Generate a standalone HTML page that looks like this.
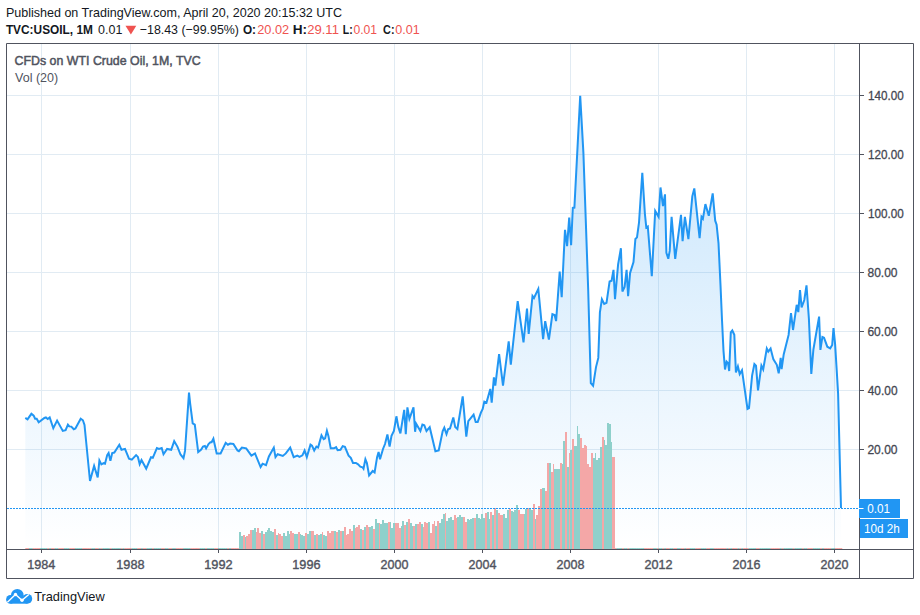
<!DOCTYPE html><html><head><meta charset="utf-8"><style>html,body{margin:0;padding:0;background:#fff;}svg{display:block;}text{font-family:"Liberation Sans",sans-serif;}</style></head><body>
<svg width="920" height="615" viewBox="0 0 920 615">
<defs><linearGradient id="ag" x1="0" y1="95" x2="0" y2="548" gradientUnits="userSpaceOnUse"><stop offset="0" stop-color="#2196f3" stop-opacity="0.26"/><stop offset="1" stop-color="#2196f3" stop-opacity="0.0"/></linearGradient></defs>
<path d="M41.5 44V549M130.5 44V549M218.5 44V549M306.5 44V549M394.5 44V549M482.5 44V549M570.5 44V549M658.5 44V549M746.5 44V549M834.5 44V549M7 95.5H859M7 154.5H859M7 213.5H859M7 272.5H859M7 331.5H859M7 390.5H859M7 449.5H859" stroke="#e1ebf3" stroke-width="1" fill="none"/>
<path d="M25.3 417.9 L27.5 419.3 L31.4 413.8 L33.7 415.6 L35.1 418.7 L36.7 418.7 L38.7 422.3 L44.4 418.0 L45.9 417.4 L47.7 419.0 L49.7 417.4 L53.3 428.2 L57.1 420.6 L62.8 430.9 L65.6 430.1 L67.9 424.6 L69.3 426.4 L71.3 426.6 L73.8 429.3 L75.4 428.5 L80.7 418.7 L82.9 420.3 L84.5 425.0 L90.0 481.0 L94.1 465.9 L97.7 477.5 L99.4 460.5 L101.4 464.4 L103.6 463.2 L105.0 463.7 L107.2 455.1 L108.6 453.0 L110.4 460.9 L112.2 453.0 L114.3 452.5 L119.3 444.8 L121.5 449.8 L125.0 448.9 L129.0 458.7 L131.8 459.6 L136.1 455.1 L137.9 456.9 L139.7 464.1 L141.5 460.1 L146.2 468.6 L151.0 457.3 L152.8 457.8 L156.9 448.0 L159.0 448.9 L161.7 448.0 L163.5 454.2 L167.1 448.9 L171.2 449.8 L174.2 441.2 L177.4 446.6 L180.5 454.5 L183.5 458.2 L185.0 450.9 L189.0 392.6 L190.2 403.9 L192.7 423.4 L194.8 424.6 L198.2 452.1 L201.2 449.6 L203.0 446.6 L204.9 446.0 L206.1 448.4 L208.5 444.1 L210.4 442.3 L211.6 442.3 L213.4 438.7 L216.7 453.4 L220.6 453.4 L225.7 442.8 L227.9 444.7 L230.1 443.6 L233.4 443.9 L237.5 450.5 L238.9 451.2 L241.9 447.6 L246.2 448.3 L251.4 455.6 L255.0 453.4 L260.6 467.1 L262.6 463.7 L266.0 465.2 L268.9 456.4 L273.8 447.6 L275.5 457.1 L277.7 454.2 L282.8 455.9 L285.8 453.4 L290.2 447.6 L293.7 457.1 L297.3 455.6 L299.5 456.8 L302.4 455.3 L304.6 450.5 L306.8 457.1 L310.5 444.7 L312.0 445.7 L314.2 450.5 L316.4 446.6 L318.1 447.6 L321.5 435.4 L323.7 439.2 L325.1 438.4 L326.9 430.7 L328.4 435.9 L330.7 448.3 L333.9 448.3 L336.1 447.1 L337.6 450.1 L340.5 449.8 L342.7 446.1 L344.9 446.9 L348.6 455.6 L350.8 457.8 L353.0 463.0 L355.9 463.0 L358.1 464.4 L360.3 466.6 L362.5 467.3 L363.5 468.8 L365.4 459.3 L366.9 463.0 L369.1 475.4 L372.7 471.0 L374.6 472.5 L377.1 457.1 L378.6 452.0 L380.0 459.3 L383.0 449.0 L385.0 444.0 L387.4 434.5 L389.6 446.6 L391.5 435.9 L393.9 431.0 L396.4 416.3 L398.3 426.9 L400.4 433.4 L404.2 409.8 L405.8 434.2 L407.4 407.4 L409.4 418.8 L413.5 407.4 L415.1 431.8 L416.2 423.7 L420.4 431.0 L422.4 424.5 L424.3 425.3 L426.5 431.0 L429.7 427.2 L435.4 451.3 L438.7 450.5 L442.7 431.0 L444.3 427.7 L446.5 434.2 L448.1 429.3 L450.0 428.5 L453.3 417.5 L455.2 426.9 L457.4 428.9 L462.7 396.3 L466.3 436.7 L468.3 421.2 L473.6 414.7 L475.7 422.0 L477.7 422.0 L480.9 412.6 L482.7 409.0 L484.3 401.6 L486.5 402.6 L490.3 388.9 L491.7 402.6 L493.9 377.3 L495.3 385.7 L499.1 354.0 L503.0 385.7 L508.7 341.3 L510.8 364.6 L517.7 301.1 L523.5 342.4 L527.0 308.5 L528.7 333.9 L532.5 295.9 L534.0 298.0 L538.3 288.9 L543.1 339.2 L545.2 321.2 L548.9 339.6 L552.4 314.1 L554.6 314.9 L556.1 321.1 L559.7 271.6 L561.7 297.1 L565.0 229.8 L567.1 246.1 L569.2 217.6 L571.1 245.3 L572.8 207.9 L574.4 207.6 L580.2 95.8 L583.4 152.9 L585.9 223.9 L588.2 290.0 L590.8 383.0 L593.1 385.7 L596.0 367.1 L598.3 357.9 L599.9 312.4 L601.9 299.2 L604.2 303.9 L606.5 302.8 L609.6 281.5 L611.6 280.7 L613.5 269.9 L615.0 299.2 L618.1 264.5 L620.9 248.2 L622.4 291.5 L624.6 286.9 L626.6 269.9 L628.1 296.1 L630.1 273.0 L633.5 262.1 L635.4 239.0 L637.0 237.4 L639.0 222.7 L642.3 172.8 L644.9 213.8 L646.3 227.5 L647.8 226.5 L651.8 276.1 L655.2 210.9 L658.6 216.8 L660.5 187.5 L663.0 206.0 L665.0 194.3 L666.4 252.9 L668.3 258.8 L669.7 250.9 L671.6 216.8 L675.2 258.8 L681.0 214.8 L682.6 241.2 L684.9 216.8 L688.4 239.2 L692.3 196.3 L694.3 188.4 L699.6 238.2 L701.5 216.8 L702.9 218.7 L705.4 204.1 L708.8 215.8 L712.7 193.3 L715.2 220.7 L716.6 224.6 L718.5 243.1 L720.5 285.1 L722.0 320.0 L723.5 350.9 L725.0 369.5 L726.6 361.7 L728.1 363.3 L729.2 371.0 L730.8 332.4 L732.3 330.5 L734.3 334.7 L735.9 372.5 L737.9 366.4 L739.7 374.1 L742.0 370.2 L747.5 408.9 L749.0 408.1 L752.1 375.6 L754.4 364.0 L756.0 365.6 L758.0 390.3 L761.4 365.6 L763.2 369.5 L766.8 348.6 L768.3 351.7 L770.6 348.6 L773.4 359.4 L776.8 364.8 L778.7 373.3 L780.7 357.9 L781.6 369.1 L783.7 354.4 L788.6 334.9 L791.0 313.0 L793.0 330.0 L796.7 304.8 L798.3 312.1 L800.0 290.2 L801.6 307.3 L804.3 300.0 L806.5 285.3 L808.9 318.7 L811.3 373.9 L813.4 349.5 L819.1 316.6 L820.4 349.9 L822.4 336.9 L824.0 337.7 L827.3 346.7 L830.2 348.3 L832.2 345.0 L833.5 328.0 L835.1 344.2 L836.7 370.0 L838.1 393.6 L841.0 508.0 L841.0 549 L25.3 549 Z" fill="url(#ag)" stroke="none"/>
<g><rect x="25.30" y="548" width="1.9" height="1" fill="#ef5350" fill-opacity="0.5"/><rect x="27.14" y="548" width="1.9" height="1" fill="#ef5350" fill-opacity="0.5"/><rect x="28.97" y="548" width="1.9" height="1" fill="#26a69a" fill-opacity="0.5"/><rect x="30.81" y="548" width="1.9" height="1" fill="#26a69a" fill-opacity="0.5"/><rect x="32.64" y="548" width="1.9" height="1" fill="#ef5350" fill-opacity="0.5"/><rect x="34.48" y="548" width="1.9" height="1" fill="#ef5350" fill-opacity="0.5"/><rect x="36.31" y="548" width="1.9" height="1" fill="#ef5350" fill-opacity="0.5"/><rect x="38.15" y="548" width="1.9" height="1" fill="#ef5350" fill-opacity="0.5"/><rect x="39.98" y="548" width="1.9" height="1" fill="#26a69a" fill-opacity="0.5"/><rect x="41.82" y="548" width="1.9" height="1" fill="#26a69a" fill-opacity="0.5"/><rect x="43.66" y="548" width="1.9" height="1" fill="#26a69a" fill-opacity="0.5"/><rect x="45.49" y="548" width="1.9" height="1" fill="#26a69a" fill-opacity="0.5"/><rect x="47.33" y="548" width="1.9" height="1" fill="#ef5350" fill-opacity="0.5"/><rect x="49.16" y="548" width="1.9" height="1" fill="#26a69a" fill-opacity="0.5"/><rect x="51.00" y="548" width="1.9" height="1" fill="#ef5350" fill-opacity="0.5"/><rect x="52.83" y="548" width="1.9" height="1" fill="#ef5350" fill-opacity="0.5"/><rect x="54.67" y="548" width="1.9" height="1" fill="#26a69a" fill-opacity="0.5"/><rect x="56.51" y="548" width="1.9" height="1" fill="#26a69a" fill-opacity="0.5"/><rect x="58.34" y="548" width="1.9" height="1" fill="#ef5350" fill-opacity="0.5"/><rect x="60.18" y="548" width="1.9" height="1" fill="#ef5350" fill-opacity="0.5"/><rect x="62.01" y="548" width="1.9" height="1" fill="#ef5350" fill-opacity="0.5"/><rect x="63.85" y="548" width="1.9" height="1" fill="#26a69a" fill-opacity="0.5"/><rect x="65.68" y="548" width="1.9" height="1" fill="#26a69a" fill-opacity="0.5"/><rect x="67.52" y="548" width="1.9" height="1" fill="#26a69a" fill-opacity="0.5"/><rect x="69.35" y="548" width="1.9" height="1" fill="#ef5350" fill-opacity="0.5"/><rect x="71.19" y="548" width="1.9" height="1" fill="#ef5350" fill-opacity="0.5"/><rect x="73.03" y="548" width="1.9" height="1" fill="#ef5350" fill-opacity="0.5"/><rect x="74.86" y="548" width="1.9" height="1" fill="#26a69a" fill-opacity="0.5"/><rect x="76.70" y="548" width="1.9" height="1" fill="#26a69a" fill-opacity="0.5"/><rect x="78.53" y="548" width="1.9" height="1" fill="#26a69a" fill-opacity="0.5"/><rect x="80.37" y="548" width="1.9" height="1" fill="#26a69a" fill-opacity="0.5"/><rect x="82.20" y="548" width="1.9" height="1" fill="#ef5350" fill-opacity="0.5"/><rect x="84.04" y="548" width="1.9" height="1" fill="#ef5350" fill-opacity="0.5"/><rect x="85.87" y="548" width="1.9" height="1" fill="#ef5350" fill-opacity="0.5"/><rect x="87.71" y="548" width="1.9" height="1" fill="#ef5350" fill-opacity="0.5"/><rect x="89.55" y="548" width="1.9" height="1" fill="#ef5350" fill-opacity="0.5"/><rect x="91.38" y="548" width="1.9" height="1" fill="#26a69a" fill-opacity="0.5"/><rect x="93.22" y="548" width="1.9" height="1" fill="#26a69a" fill-opacity="0.5"/><rect x="95.05" y="548" width="1.9" height="1" fill="#ef5350" fill-opacity="0.5"/><rect x="96.89" y="548" width="1.9" height="1" fill="#ef5350" fill-opacity="0.5"/><rect x="98.72" y="548" width="1.9" height="1" fill="#26a69a" fill-opacity="0.5"/><rect x="100.56" y="548" width="1.9" height="1" fill="#ef5350" fill-opacity="0.5"/><rect x="102.40" y="548" width="1.9" height="1" fill="#26a69a" fill-opacity="0.5"/><rect x="104.23" y="548" width="1.9" height="1" fill="#26a69a" fill-opacity="0.5"/><rect x="106.07" y="548" width="1.9" height="1" fill="#26a69a" fill-opacity="0.5"/><rect x="107.90" y="548" width="1.9" height="1" fill="#26a69a" fill-opacity="0.5"/><rect x="109.74" y="548" width="1.9" height="1" fill="#ef5350" fill-opacity="0.5"/><rect x="111.57" y="548" width="1.9" height="1" fill="#26a69a" fill-opacity="0.5"/><rect x="113.41" y="548" width="1.9" height="1" fill="#26a69a" fill-opacity="0.5"/><rect x="115.24" y="548" width="1.9" height="1" fill="#26a69a" fill-opacity="0.5"/><rect x="117.08" y="548" width="1.9" height="1" fill="#26a69a" fill-opacity="0.5"/><rect x="118.92" y="548" width="1.9" height="1" fill="#26a69a" fill-opacity="0.5"/><rect x="120.75" y="548" width="1.9" height="1" fill="#ef5350" fill-opacity="0.5"/><rect x="122.59" y="548" width="1.9" height="1" fill="#26a69a" fill-opacity="0.5"/><rect x="124.42" y="548" width="1.9" height="1" fill="#ef5350" fill-opacity="0.5"/><rect x="126.26" y="548" width="1.9" height="1" fill="#ef5350" fill-opacity="0.5"/><rect x="128.09" y="548" width="1.9" height="1" fill="#ef5350" fill-opacity="0.5"/><rect x="129.93" y="548" width="1.9" height="1" fill="#ef5350" fill-opacity="0.5"/><rect x="131.76" y="548" width="1.9" height="1" fill="#26a69a" fill-opacity="0.5"/><rect x="133.60" y="548" width="1.9" height="1" fill="#26a69a" fill-opacity="0.5"/><rect x="135.44" y="548" width="1.9" height="1" fill="#26a69a" fill-opacity="0.5"/><rect x="137.27" y="548" width="1.9" height="1" fill="#ef5350" fill-opacity="0.5"/><rect x="139.11" y="548" width="1.9" height="1" fill="#ef5350" fill-opacity="0.5"/><rect x="140.94" y="548" width="1.9" height="1" fill="#26a69a" fill-opacity="0.5"/><rect x="142.78" y="548" width="1.9" height="1" fill="#ef5350" fill-opacity="0.5"/><rect x="144.61" y="548" width="1.9" height="1" fill="#ef5350" fill-opacity="0.5"/><rect x="146.45" y="548" width="1.9" height="1" fill="#26a69a" fill-opacity="0.5"/><rect x="148.29" y="548" width="1.9" height="1" fill="#26a69a" fill-opacity="0.5"/><rect x="150.12" y="548" width="1.9" height="1" fill="#26a69a" fill-opacity="0.5"/><rect x="151.96" y="548" width="1.9" height="1" fill="#ef5350" fill-opacity="0.5"/><rect x="153.79" y="548" width="1.9" height="1" fill="#26a69a" fill-opacity="0.5"/><rect x="155.63" y="548" width="1.9" height="1" fill="#26a69a" fill-opacity="0.5"/><rect x="157.46" y="548" width="1.9" height="1" fill="#26a69a" fill-opacity="0.5"/><rect x="159.30" y="548" width="1.9" height="1" fill="#26a69a" fill-opacity="0.5"/><rect x="161.13" y="548" width="1.9" height="1" fill="#ef5350" fill-opacity="0.5"/><rect x="162.97" y="548" width="1.9" height="1" fill="#ef5350" fill-opacity="0.5"/><rect x="164.81" y="548" width="1.9" height="1" fill="#26a69a" fill-opacity="0.5"/><rect x="166.64" y="548" width="1.9" height="1" fill="#26a69a" fill-opacity="0.5"/><rect x="168.48" y="548" width="1.9" height="1" fill="#ef5350" fill-opacity="0.5"/><rect x="170.31" y="548" width="1.9" height="1" fill="#ef5350" fill-opacity="0.5"/><rect x="172.15" y="548" width="1.9" height="1" fill="#26a69a" fill-opacity="0.5"/><rect x="173.98" y="548" width="1.9" height="1" fill="#26a69a" fill-opacity="0.5"/><rect x="175.82" y="548" width="1.9" height="1" fill="#ef5350" fill-opacity="0.5"/><rect x="177.65" y="548" width="1.9" height="1" fill="#ef5350" fill-opacity="0.5"/><rect x="179.49" y="548" width="1.9" height="1" fill="#ef5350" fill-opacity="0.5"/><rect x="181.33" y="548" width="1.9" height="1" fill="#ef5350" fill-opacity="0.5"/><rect x="183.16" y="548" width="1.9" height="1" fill="#26a69a" fill-opacity="0.5"/><rect x="185.00" y="548" width="1.9" height="1" fill="#26a69a" fill-opacity="0.5"/><rect x="186.83" y="548" width="1.9" height="1" fill="#26a69a" fill-opacity="0.5"/><rect x="188.67" y="548" width="1.9" height="1" fill="#26a69a" fill-opacity="0.5"/><rect x="190.50" y="548" width="1.9" height="1" fill="#ef5350" fill-opacity="0.5"/><rect x="192.34" y="548" width="1.9" height="1" fill="#ef5350" fill-opacity="0.5"/><rect x="194.18" y="548" width="1.9" height="1" fill="#ef5350" fill-opacity="0.5"/><rect x="196.01" y="548" width="1.9" height="1" fill="#ef5350" fill-opacity="0.5"/><rect x="197.85" y="548" width="1.9" height="1" fill="#ef5350" fill-opacity="0.5"/><rect x="199.68" y="548" width="1.9" height="1" fill="#26a69a" fill-opacity="0.5"/><rect x="201.52" y="548" width="1.9" height="1" fill="#26a69a" fill-opacity="0.5"/><rect x="203.35" y="548" width="1.9" height="1" fill="#26a69a" fill-opacity="0.5"/><rect x="205.19" y="548" width="1.9" height="1" fill="#ef5350" fill-opacity="0.5"/><rect x="207.02" y="548" width="1.9" height="1" fill="#26a69a" fill-opacity="0.5"/><rect x="208.86" y="548" width="1.9" height="1" fill="#26a69a" fill-opacity="0.5"/><rect x="210.70" y="548" width="1.9" height="1" fill="#26a69a" fill-opacity="0.5"/><rect x="212.53" y="548" width="1.9" height="1" fill="#26a69a" fill-opacity="0.5"/><rect x="214.37" y="548" width="1.9" height="1" fill="#ef5350" fill-opacity="0.5"/><rect x="216.20" y="548" width="1.9" height="1" fill="#ef5350" fill-opacity="0.5"/><rect x="218.04" y="548" width="1.9" height="1" fill="#26a69a" fill-opacity="0.5"/><rect x="219.87" y="548" width="1.9" height="1" fill="#26a69a" fill-opacity="0.5"/><rect x="221.71" y="548" width="1.9" height="1" fill="#26a69a" fill-opacity="0.5"/><rect x="223.54" y="548" width="1.9" height="1" fill="#26a69a" fill-opacity="0.5"/><rect x="225.38" y="548" width="1.9" height="1" fill="#26a69a" fill-opacity="0.5"/><rect x="227.22" y="548" width="1.9" height="1" fill="#ef5350" fill-opacity="0.5"/><rect x="229.05" y="548" width="1.9" height="1" fill="#26a69a" fill-opacity="0.5"/><rect x="230.89" y="548" width="1.9" height="1" fill="#ef5350" fill-opacity="0.5"/><rect x="232.72" y="548" width="1.9" height="1" fill="#ef5350" fill-opacity="0.5"/><rect x="234.56" y="548" width="1.9" height="1" fill="#ef5350" fill-opacity="0.5"/><rect x="236.39" y="548" width="1.9" height="1" fill="#ef5350" fill-opacity="0.5"/><rect x="238.23" y="548" width="1.9" height="1" fill="#ef5350" fill-opacity="0.5"/><rect x="614.60" y="548" width="1.9" height="1" fill="#ef5350" fill-opacity="0.5"/><rect x="616.44" y="548" width="1.9" height="1" fill="#26a69a" fill-opacity="0.5"/><rect x="618.27" y="548" width="1.9" height="1" fill="#26a69a" fill-opacity="0.5"/><rect x="620.11" y="548" width="1.9" height="1" fill="#26a69a" fill-opacity="0.5"/><rect x="621.94" y="548" width="1.9" height="1" fill="#ef5350" fill-opacity="0.5"/><rect x="623.78" y="548" width="1.9" height="1" fill="#26a69a" fill-opacity="0.5"/><rect x="625.61" y="548" width="1.9" height="1" fill="#26a69a" fill-opacity="0.5"/><rect x="627.45" y="548" width="1.9" height="1" fill="#ef5350" fill-opacity="0.5"/><rect x="629.28" y="548" width="1.9" height="1" fill="#26a69a" fill-opacity="0.5"/><rect x="631.12" y="548" width="1.9" height="1" fill="#26a69a" fill-opacity="0.5"/><rect x="632.96" y="548" width="1.9" height="1" fill="#26a69a" fill-opacity="0.5"/><rect x="634.79" y="548" width="1.9" height="1" fill="#26a69a" fill-opacity="0.5"/><rect x="636.63" y="548" width="1.9" height="1" fill="#26a69a" fill-opacity="0.5"/><rect x="638.46" y="548" width="1.9" height="1" fill="#26a69a" fill-opacity="0.5"/><rect x="640.30" y="548" width="1.9" height="1" fill="#26a69a" fill-opacity="0.5"/><rect x="642.13" y="548" width="1.9" height="1" fill="#26a69a" fill-opacity="0.5"/><rect x="643.97" y="548" width="1.9" height="1" fill="#ef5350" fill-opacity="0.5"/><rect x="645.81" y="548" width="1.9" height="1" fill="#ef5350" fill-opacity="0.5"/><rect x="647.64" y="548" width="1.9" height="1" fill="#ef5350" fill-opacity="0.5"/><rect x="649.48" y="548" width="1.9" height="1" fill="#ef5350" fill-opacity="0.5"/><rect x="651.31" y="548" width="1.9" height="1" fill="#ef5350" fill-opacity="0.5"/><rect x="653.15" y="548" width="1.9" height="1" fill="#26a69a" fill-opacity="0.5"/><rect x="654.98" y="548" width="1.9" height="1" fill="#26a69a" fill-opacity="0.5"/><rect x="656.82" y="548" width="1.9" height="1" fill="#ef5350" fill-opacity="0.5"/><rect x="658.65" y="548" width="1.9" height="1" fill="#26a69a" fill-opacity="0.5"/><rect x="660.49" y="548" width="1.9" height="1" fill="#26a69a" fill-opacity="0.5"/><rect x="662.33" y="548" width="1.9" height="1" fill="#ef5350" fill-opacity="0.5"/><rect x="664.16" y="548" width="1.9" height="1" fill="#26a69a" fill-opacity="0.5"/><rect x="666.00" y="548" width="1.9" height="1" fill="#ef5350" fill-opacity="0.5"/><rect x="667.83" y="548" width="1.9" height="1" fill="#ef5350" fill-opacity="0.5"/><rect x="669.67" y="548" width="1.9" height="1" fill="#26a69a" fill-opacity="0.5"/><rect x="671.50" y="548" width="1.9" height="1" fill="#26a69a" fill-opacity="0.5"/><rect x="673.34" y="548" width="1.9" height="1" fill="#ef5350" fill-opacity="0.5"/><rect x="675.17" y="548" width="1.9" height="1" fill="#ef5350" fill-opacity="0.5"/><rect x="677.01" y="548" width="1.9" height="1" fill="#26a69a" fill-opacity="0.5"/><rect x="678.85" y="548" width="1.9" height="1" fill="#26a69a" fill-opacity="0.5"/><rect x="680.68" y="548" width="1.9" height="1" fill="#ef5350" fill-opacity="0.5"/><rect x="682.52" y="548" width="1.9" height="1" fill="#ef5350" fill-opacity="0.5"/><rect x="684.35" y="548" width="1.9" height="1" fill="#26a69a" fill-opacity="0.5"/><rect x="686.19" y="548" width="1.9" height="1" fill="#ef5350" fill-opacity="0.5"/><rect x="688.02" y="548" width="1.9" height="1" fill="#ef5350" fill-opacity="0.5"/><rect x="689.86" y="548" width="1.9" height="1" fill="#26a69a" fill-opacity="0.5"/><rect x="691.70" y="548" width="1.9" height="1" fill="#26a69a" fill-opacity="0.5"/><rect x="693.53" y="548" width="1.9" height="1" fill="#26a69a" fill-opacity="0.5"/><rect x="695.37" y="548" width="1.9" height="1" fill="#ef5350" fill-opacity="0.5"/><rect x="697.20" y="548" width="1.9" height="1" fill="#ef5350" fill-opacity="0.5"/><rect x="699.04" y="548" width="1.9" height="1" fill="#ef5350" fill-opacity="0.5"/><rect x="700.87" y="548" width="1.9" height="1" fill="#26a69a" fill-opacity="0.5"/><rect x="702.71" y="548" width="1.9" height="1" fill="#26a69a" fill-opacity="0.5"/><rect x="704.54" y="548" width="1.9" height="1" fill="#26a69a" fill-opacity="0.5"/><rect x="706.38" y="548" width="1.9" height="1" fill="#ef5350" fill-opacity="0.5"/><rect x="708.22" y="548" width="1.9" height="1" fill="#ef5350" fill-opacity="0.5"/><rect x="710.05" y="548" width="1.9" height="1" fill="#26a69a" fill-opacity="0.5"/><rect x="711.89" y="548" width="1.9" height="1" fill="#26a69a" fill-opacity="0.5"/><rect x="713.72" y="548" width="1.9" height="1" fill="#ef5350" fill-opacity="0.5"/><rect x="715.56" y="548" width="1.9" height="1" fill="#ef5350" fill-opacity="0.5"/><rect x="717.39" y="548" width="1.9" height="1" fill="#ef5350" fill-opacity="0.5"/><rect x="719.23" y="548" width="1.9" height="1" fill="#ef5350" fill-opacity="0.5"/><rect x="721.06" y="548" width="1.9" height="1" fill="#ef5350" fill-opacity="0.5"/><rect x="722.90" y="548" width="1.9" height="1" fill="#ef5350" fill-opacity="0.5"/><rect x="724.74" y="548" width="1.9" height="1" fill="#ef5350" fill-opacity="0.5"/><rect x="726.57" y="548" width="1.9" height="1" fill="#26a69a" fill-opacity="0.5"/><rect x="728.41" y="548" width="1.9" height="1" fill="#ef5350" fill-opacity="0.5"/><rect x="730.24" y="548" width="1.9" height="1" fill="#26a69a" fill-opacity="0.5"/><rect x="732.08" y="548" width="1.9" height="1" fill="#ef5350" fill-opacity="0.5"/><rect x="733.91" y="548" width="1.9" height="1" fill="#ef5350" fill-opacity="0.5"/><rect x="735.75" y="548" width="1.9" height="1" fill="#ef5350" fill-opacity="0.5"/><rect x="737.59" y="548" width="1.9" height="1" fill="#26a69a" fill-opacity="0.5"/><rect x="739.42" y="548" width="1.9" height="1" fill="#ef5350" fill-opacity="0.5"/><rect x="741.26" y="548" width="1.9" height="1" fill="#26a69a" fill-opacity="0.5"/><rect x="743.09" y="548" width="1.9" height="1" fill="#ef5350" fill-opacity="0.5"/><rect x="744.93" y="548" width="1.9" height="1" fill="#ef5350" fill-opacity="0.5"/><rect x="746.76" y="548" width="1.9" height="1" fill="#ef5350" fill-opacity="0.5"/><rect x="748.60" y="548" width="1.9" height="1" fill="#26a69a" fill-opacity="0.5"/><rect x="750.43" y="548" width="1.9" height="1" fill="#26a69a" fill-opacity="0.5"/><rect x="752.27" y="548" width="1.9" height="1" fill="#26a69a" fill-opacity="0.5"/><rect x="754.11" y="548" width="1.9" height="1" fill="#26a69a" fill-opacity="0.5"/><rect x="755.94" y="548" width="1.9" height="1" fill="#ef5350" fill-opacity="0.5"/><rect x="757.78" y="548" width="1.9" height="1" fill="#ef5350" fill-opacity="0.5"/><rect x="759.61" y="548" width="1.9" height="1" fill="#26a69a" fill-opacity="0.5"/><rect x="761.45" y="548" width="1.9" height="1" fill="#26a69a" fill-opacity="0.5"/><rect x="763.28" y="548" width="1.9" height="1" fill="#26a69a" fill-opacity="0.5"/><rect x="765.12" y="548" width="1.9" height="1" fill="#26a69a" fill-opacity="0.5"/><rect x="766.95" y="548" width="1.9" height="1" fill="#26a69a" fill-opacity="0.5"/><rect x="768.79" y="548" width="1.9" height="1" fill="#26a69a" fill-opacity="0.5"/><rect x="770.63" y="548" width="1.9" height="1" fill="#ef5350" fill-opacity="0.5"/><rect x="772.46" y="548" width="1.9" height="1" fill="#ef5350" fill-opacity="0.5"/><rect x="774.30" y="548" width="1.9" height="1" fill="#ef5350" fill-opacity="0.5"/><rect x="776.13" y="548" width="1.9" height="1" fill="#ef5350" fill-opacity="0.5"/><rect x="777.97" y="548" width="1.9" height="1" fill="#ef5350" fill-opacity="0.5"/><rect x="779.80" y="548" width="1.9" height="1" fill="#26a69a" fill-opacity="0.5"/><rect x="781.64" y="548" width="1.9" height="1" fill="#ef5350" fill-opacity="0.5"/><rect x="783.48" y="548" width="1.9" height="1" fill="#26a69a" fill-opacity="0.5"/><rect x="785.31" y="548" width="1.9" height="1" fill="#26a69a" fill-opacity="0.5"/><rect x="787.15" y="548" width="1.9" height="1" fill="#26a69a" fill-opacity="0.5"/><rect x="788.98" y="548" width="1.9" height="1" fill="#26a69a" fill-opacity="0.5"/><rect x="790.82" y="548" width="1.9" height="1" fill="#26a69a" fill-opacity="0.5"/><rect x="792.65" y="548" width="1.9" height="1" fill="#ef5350" fill-opacity="0.5"/><rect x="794.49" y="548" width="1.9" height="1" fill="#26a69a" fill-opacity="0.5"/><rect x="796.32" y="548" width="1.9" height="1" fill="#26a69a" fill-opacity="0.5"/><rect x="798.16" y="548" width="1.9" height="1" fill="#26a69a" fill-opacity="0.5"/><rect x="800.00" y="548" width="1.9" height="1" fill="#26a69a" fill-opacity="0.5"/><rect x="801.83" y="548" width="1.9" height="1" fill="#ef5350" fill-opacity="0.5"/><rect x="803.67" y="548" width="1.9" height="1" fill="#26a69a" fill-opacity="0.5"/><rect x="805.50" y="548" width="1.9" height="1" fill="#26a69a" fill-opacity="0.5"/><rect x="807.34" y="548" width="1.9" height="1" fill="#ef5350" fill-opacity="0.5"/><rect x="809.17" y="548" width="1.9" height="1" fill="#ef5350" fill-opacity="0.5"/><rect x="811.01" y="548" width="1.9" height="1" fill="#ef5350" fill-opacity="0.5"/><rect x="812.84" y="548" width="1.9" height="1" fill="#26a69a" fill-opacity="0.5"/><rect x="814.68" y="548" width="1.9" height="1" fill="#26a69a" fill-opacity="0.5"/><rect x="816.52" y="548" width="1.9" height="1" fill="#26a69a" fill-opacity="0.5"/><rect x="818.35" y="548" width="1.9" height="1" fill="#26a69a" fill-opacity="0.5"/><rect x="820.19" y="548" width="1.9" height="1" fill="#ef5350" fill-opacity="0.5"/><rect x="822.02" y="548" width="1.9" height="1" fill="#26a69a" fill-opacity="0.5"/><rect x="823.86" y="548" width="1.9" height="1" fill="#ef5350" fill-opacity="0.5"/><rect x="825.69" y="548" width="1.9" height="1" fill="#ef5350" fill-opacity="0.5"/><rect x="827.53" y="548" width="1.9" height="1" fill="#ef5350" fill-opacity="0.5"/><rect x="829.37" y="548" width="1.9" height="1" fill="#ef5350" fill-opacity="0.5"/><rect x="831.20" y="548" width="1.9" height="1" fill="#26a69a" fill-opacity="0.5"/><rect x="833.04" y="548" width="1.9" height="1" fill="#26a69a" fill-opacity="0.5"/><rect x="834.87" y="548" width="1.9" height="1" fill="#ef5350" fill-opacity="0.5"/><rect x="836.71" y="548" width="1.9" height="1" fill="#ef5350" fill-opacity="0.5"/><rect x="838.54" y="548" width="1.9" height="1" fill="#ef5350" fill-opacity="0.5"/><rect x="840.38" y="548" width="1.9" height="1" fill="#ef5350" fill-opacity="0.5"/></g>
<g shape-rendering="crispEdges"><rect x="239.00" y="532.00" width="1.89" height="16.70" fill="#8fd0cb"/><rect x="240.84" y="536.09" width="1.89" height="12.61" fill="#8fd0cb"/><rect x="242.67" y="534.96" width="1.89" height="13.74" fill="#f4a7a7"/><rect x="244.51" y="536.96" width="1.89" height="11.74" fill="#8fd0cb"/><rect x="246.34" y="536.09" width="1.89" height="12.61" fill="#f4a7a7"/><rect x="248.18" y="533.91" width="1.89" height="14.79" fill="#f4a7a7"/><rect x="250.01" y="530.00" width="1.89" height="18.70" fill="#f4a7a7"/><rect x="251.85" y="530.00" width="1.89" height="18.70" fill="#8fd0cb"/><rect x="253.68" y="528.00" width="1.89" height="20.70" fill="#8fd0cb"/><rect x="255.52" y="532.17" width="1.89" height="16.53" fill="#f4a7a7"/><rect x="257.36" y="528.00" width="1.89" height="20.70" fill="#f4a7a7"/><rect x="259.19" y="533.04" width="1.89" height="15.66" fill="#f4a7a7"/><rect x="261.03" y="530.87" width="1.89" height="17.83" fill="#8fd0cb"/><rect x="262.86" y="533.91" width="1.89" height="14.79" fill="#f4a7a7"/><rect x="264.70" y="532.17" width="1.89" height="16.53" fill="#8fd0cb"/><rect x="266.53" y="530.00" width="1.89" height="18.70" fill="#8fd0cb"/><rect x="268.37" y="528.00" width="1.89" height="20.70" fill="#8fd0cb"/><rect x="270.21" y="530.87" width="1.89" height="17.83" fill="#8fd0cb"/><rect x="272.04" y="532.17" width="1.89" height="16.53" fill="#8fd0cb"/><rect x="273.88" y="528.87" width="1.89" height="19.83" fill="#f4a7a7"/><rect x="275.71" y="534.96" width="1.89" height="13.74" fill="#8fd0cb"/><rect x="277.55" y="533.04" width="1.89" height="15.66" fill="#f4a7a7"/><rect x="279.38" y="533.91" width="1.89" height="14.79" fill="#f4a7a7"/><rect x="281.22" y="536.09" width="1.89" height="12.61" fill="#f4a7a7"/><rect x="283.05" y="533.04" width="1.89" height="15.66" fill="#8fd0cb"/><rect x="284.89" y="536.09" width="1.89" height="12.61" fill="#8fd0cb"/><rect x="286.73" y="530.87" width="1.89" height="17.83" fill="#8fd0cb"/><rect x="288.56" y="533.91" width="1.89" height="14.79" fill="#8fd0cb"/><rect x="290.40" y="530.87" width="1.89" height="17.83" fill="#f4a7a7"/><rect x="292.23" y="533.04" width="1.89" height="15.66" fill="#f4a7a7"/><rect x="294.07" y="533.91" width="1.89" height="14.79" fill="#8fd0cb"/><rect x="295.90" y="533.91" width="1.89" height="14.79" fill="#8fd0cb"/><rect x="297.74" y="532.00" width="1.89" height="16.70" fill="#f4a7a7"/><rect x="299.57" y="533.91" width="1.89" height="14.79" fill="#8fd0cb"/><rect x="301.41" y="534.96" width="1.89" height="13.74" fill="#8fd0cb"/><rect x="303.25" y="536.09" width="1.89" height="12.61" fill="#8fd0cb"/><rect x="305.08" y="533.04" width="1.89" height="15.66" fill="#f4a7a7"/><rect x="306.92" y="533.91" width="1.89" height="14.79" fill="#8fd0cb"/><rect x="308.75" y="530.87" width="1.89" height="17.83" fill="#8fd0cb"/><rect x="310.59" y="530.87" width="1.89" height="17.83" fill="#f4a7a7"/><rect x="312.42" y="531.16" width="1.89" height="17.54" fill="#f4a7a7"/><rect x="314.26" y="535.18" width="1.89" height="13.52" fill="#8fd0cb"/><rect x="316.10" y="533.94" width="1.89" height="14.76" fill="#f4a7a7"/><rect x="317.93" y="535.18" width="1.89" height="13.52" fill="#8fd0cb"/><rect x="319.77" y="534.13" width="1.89" height="14.57" fill="#8fd0cb"/><rect x="321.60" y="532.09" width="1.89" height="16.61" fill="#f4a7a7"/><rect x="323.44" y="535.18" width="1.89" height="13.52" fill="#8fd0cb"/><rect x="325.27" y="536.10" width="1.89" height="12.60" fill="#8fd0cb"/><rect x="327.11" y="531.16" width="1.89" height="17.54" fill="#f4a7a7"/><rect x="328.94" y="533.01" width="1.89" height="15.69" fill="#f4a7a7"/><rect x="330.78" y="531.16" width="1.89" height="17.54" fill="#f4a7a7"/><rect x="332.62" y="531.16" width="1.89" height="17.54" fill="#f4a7a7"/><rect x="334.45" y="531.16" width="1.89" height="17.54" fill="#8fd0cb"/><rect x="336.29" y="532.09" width="1.89" height="16.61" fill="#f4a7a7"/><rect x="338.12" y="530.23" width="1.89" height="18.47" fill="#8fd0cb"/><rect x="339.96" y="531.16" width="1.89" height="17.54" fill="#f4a7a7"/><rect x="341.79" y="531.16" width="1.89" height="17.54" fill="#8fd0cb"/><rect x="343.63" y="527.14" width="1.89" height="21.56" fill="#f4a7a7"/><rect x="345.46" y="535.18" width="1.89" height="13.52" fill="#f4a7a7"/><rect x="347.30" y="533.94" width="1.89" height="14.76" fill="#f4a7a7"/><rect x="349.14" y="529.00" width="1.89" height="19.70" fill="#f4a7a7"/><rect x="350.97" y="531.16" width="1.89" height="17.54" fill="#f4a7a7"/><rect x="352.81" y="525.29" width="1.89" height="23.41" fill="#8fd0cb"/><rect x="354.64" y="528.07" width="1.89" height="20.63" fill="#f4a7a7"/><rect x="356.48" y="527.14" width="1.89" height="21.56" fill="#f4a7a7"/><rect x="358.31" y="525.29" width="1.89" height="23.41" fill="#f4a7a7"/><rect x="360.15" y="529.17" width="1.89" height="19.53" fill="#8fd0cb"/><rect x="361.99" y="530.20" width="1.89" height="18.50" fill="#f4a7a7"/><rect x="363.82" y="527.13" width="1.89" height="21.57" fill="#8fd0cb"/><rect x="365.66" y="525.08" width="1.89" height="23.62" fill="#f4a7a7"/><rect x="367.49" y="527.13" width="1.89" height="21.57" fill="#f4a7a7"/><rect x="369.33" y="527.13" width="1.89" height="21.57" fill="#8fd0cb"/><rect x="371.16" y="526.10" width="1.89" height="22.60" fill="#8fd0cb"/><rect x="373.00" y="529.17" width="1.89" height="19.53" fill="#f4a7a7"/><rect x="374.83" y="519.07" width="1.89" height="29.63" fill="#8fd0cb"/><rect x="376.67" y="523.03" width="1.89" height="25.67" fill="#8fd0cb"/><rect x="378.51" y="523.03" width="1.89" height="25.67" fill="#f4a7a7"/><rect x="380.34" y="524.05" width="1.89" height="24.65" fill="#8fd0cb"/><rect x="382.18" y="520.16" width="1.89" height="28.54" fill="#8fd0cb"/><rect x="384.01" y="523.03" width="1.89" height="25.67" fill="#8fd0cb"/><rect x="385.85" y="523.03" width="1.89" height="25.67" fill="#8fd0cb"/><rect x="387.68" y="522.00" width="1.89" height="26.70" fill="#f4a7a7"/><rect x="389.52" y="522.00" width="1.89" height="26.70" fill="#8fd0cb"/><rect x="391.35" y="528.15" width="1.89" height="20.55" fill="#8fd0cb"/><rect x="393.19" y="523.03" width="1.89" height="25.67" fill="#8fd0cb"/><rect x="395.03" y="523.03" width="1.89" height="25.67" fill="#f4a7a7"/><rect x="396.86" y="523.03" width="1.89" height="25.67" fill="#f4a7a7"/><rect x="398.70" y="528.15" width="1.89" height="20.55" fill="#f4a7a7"/><rect x="400.53" y="526.10" width="1.89" height="22.60" fill="#8fd0cb"/><rect x="402.37" y="520.98" width="1.89" height="27.72" fill="#8fd0cb"/><rect x="404.20" y="525.08" width="1.89" height="23.62" fill="#f4a7a7"/><rect x="406.04" y="522.00" width="1.89" height="26.70" fill="#8fd0cb"/><rect x="407.88" y="518.91" width="1.89" height="29.79" fill="#f4a7a7"/><rect x="409.71" y="522.94" width="1.89" height="25.76" fill="#8fd0cb"/><rect x="411.55" y="526.23" width="1.89" height="22.47" fill="#8fd0cb"/><rect x="413.38" y="526.23" width="1.89" height="22.47" fill="#f4a7a7"/><rect x="415.22" y="524.03" width="1.89" height="24.67" fill="#8fd0cb"/><rect x="417.05" y="524.03" width="1.89" height="24.67" fill="#f4a7a7"/><rect x="418.89" y="521.98" width="1.89" height="26.72" fill="#f4a7a7"/><rect x="420.72" y="524.03" width="1.89" height="24.67" fill="#8fd0cb"/><rect x="422.56" y="526.96" width="1.89" height="21.74" fill="#f4a7a7"/><rect x="424.40" y="521.98" width="1.89" height="26.72" fill="#f4a7a7"/><rect x="426.23" y="522.94" width="1.89" height="25.76" fill="#f4a7a7"/><rect x="428.07" y="521.98" width="1.89" height="26.72" fill="#8fd0cb"/><rect x="429.90" y="532.96" width="1.89" height="15.74" fill="#f4a7a7"/><rect x="431.74" y="524.03" width="1.89" height="24.67" fill="#f4a7a7"/><rect x="433.57" y="520.96" width="1.89" height="27.74" fill="#f4a7a7"/><rect x="435.41" y="526.23" width="1.89" height="22.47" fill="#8fd0cb"/><rect x="437.24" y="520.96" width="1.89" height="27.74" fill="#f4a7a7"/><rect x="439.08" y="522.94" width="1.89" height="25.76" fill="#8fd0cb"/><rect x="440.92" y="518.91" width="1.89" height="29.79" fill="#8fd0cb"/><rect x="442.75" y="513.93" width="1.89" height="34.77" fill="#8fd0cb"/><rect x="444.59" y="512.91" width="1.89" height="35.79" fill="#f4a7a7"/><rect x="446.42" y="520.96" width="1.89" height="27.74" fill="#8fd0cb"/><rect x="448.26" y="518.03" width="1.89" height="30.67" fill="#8fd0cb"/><rect x="450.09" y="517.08" width="1.89" height="31.62" fill="#8fd0cb"/><rect x="451.93" y="520.01" width="1.89" height="28.69" fill="#8fd0cb"/><rect x="453.77" y="514.88" width="1.89" height="33.82" fill="#f4a7a7"/><rect x="455.60" y="518.05" width="1.89" height="30.65" fill="#f4a7a7"/><rect x="457.44" y="517.07" width="1.89" height="31.63" fill="#8fd0cb"/><rect x="459.27" y="515.04" width="1.89" height="33.66" fill="#8fd0cb"/><rect x="461.11" y="517.07" width="1.89" height="31.63" fill="#8fd0cb"/><rect x="462.94" y="517.07" width="1.89" height="31.63" fill="#f4a7a7"/><rect x="464.78" y="521.95" width="1.89" height="26.75" fill="#f4a7a7"/><rect x="466.61" y="519.11" width="1.89" height="29.59" fill="#8fd0cb"/><rect x="468.45" y="519.92" width="1.89" height="28.78" fill="#8fd0cb"/><rect x="470.29" y="519.11" width="1.89" height="29.59" fill="#8fd0cb"/><rect x="472.12" y="518.05" width="1.89" height="30.65" fill="#8fd0cb"/><rect x="473.96" y="518.05" width="1.89" height="30.65" fill="#f4a7a7"/><rect x="475.79" y="514.23" width="1.89" height="34.47" fill="#8fd0cb"/><rect x="477.63" y="518.05" width="1.89" height="30.65" fill="#8fd0cb"/><rect x="479.46" y="519.11" width="1.89" height="29.59" fill="#8fd0cb"/><rect x="481.30" y="514.23" width="1.89" height="34.47" fill="#8fd0cb"/><rect x="483.13" y="518.05" width="1.89" height="30.65" fill="#8fd0cb"/><rect x="484.97" y="513.01" width="1.89" height="35.69" fill="#f4a7a7"/><rect x="486.81" y="512.20" width="1.89" height="36.50" fill="#8fd0cb"/><rect x="488.64" y="519.11" width="1.89" height="29.59" fill="#8fd0cb"/><rect x="490.48" y="512.20" width="1.89" height="36.50" fill="#f4a7a7"/><rect x="492.31" y="515.04" width="1.89" height="33.66" fill="#8fd0cb"/><rect x="494.15" y="508.13" width="1.89" height="40.57" fill="#f4a7a7"/><rect x="495.98" y="510.16" width="1.89" height="38.54" fill="#8fd0cb"/><rect x="497.82" y="513.01" width="1.89" height="35.69" fill="#f4a7a7"/><rect x="499.66" y="515.04" width="1.89" height="33.66" fill="#f4a7a7"/><rect x="501.49" y="515.13" width="1.89" height="33.57" fill="#f4a7a7"/><rect x="503.33" y="513.96" width="1.89" height="34.74" fill="#8fd0cb"/><rect x="505.16" y="518.08" width="1.89" height="30.62" fill="#8fd0cb"/><rect x="507.00" y="510.21" width="1.89" height="38.49" fill="#8fd0cb"/><rect x="508.83" y="508.86" width="1.89" height="39.84" fill="#f4a7a7"/><rect x="510.67" y="511.10" width="1.89" height="37.60" fill="#8fd0cb"/><rect x="512.50" y="511.99" width="1.89" height="36.71" fill="#8fd0cb"/><rect x="514.34" y="510.21" width="1.89" height="38.49" fill="#8fd0cb"/><rect x="516.18" y="505.02" width="1.89" height="43.68" fill="#8fd0cb"/><rect x="518.01" y="510.21" width="1.89" height="38.49" fill="#f4a7a7"/><rect x="519.85" y="513.96" width="1.89" height="34.74" fill="#f4a7a7"/><rect x="521.68" y="513.96" width="1.89" height="34.74" fill="#f4a7a7"/><rect x="523.52" y="513.96" width="1.89" height="34.74" fill="#8fd0cb"/><rect x="525.35" y="508.86" width="1.89" height="39.84" fill="#8fd0cb"/><rect x="527.19" y="507.97" width="1.89" height="40.73" fill="#f4a7a7"/><rect x="529.02" y="507.52" width="1.89" height="41.18" fill="#8fd0cb"/><rect x="530.86" y="510.21" width="1.89" height="38.49" fill="#8fd0cb"/><rect x="533.00" y="503.50" width="1.75" height="45.20" fill="#f4a7a7"/><rect x="534.70" y="519.40" width="1.55" height="29.30" fill="#8fd0cb"/><rect x="536.20" y="515.00" width="1.75" height="33.70" fill="#f4a7a7"/><rect x="537.90" y="505.60" width="1.95" height="43.10" fill="#f4a7a7"/><rect x="539.80" y="488.70" width="1.75" height="60.00" fill="#f4a7a7"/><rect x="541.50" y="487.70" width="1.65" height="61.00" fill="#8fd0cb"/><rect x="543.10" y="488.00" width="1.95" height="60.70" fill="#8fd0cb"/><rect x="545.00" y="490.80" width="2.05" height="57.90" fill="#f4a7a7"/><rect x="547.00" y="463.30" width="1.95" height="85.40" fill="#f4a7a7"/><rect x="548.90" y="463.30" width="1.95" height="85.40" fill="#8fd0cb"/><rect x="550.80" y="471.80" width="1.95" height="76.90" fill="#f4a7a7"/><rect x="552.70" y="464.40" width="1.75" height="84.30" fill="#f4a7a7"/><rect x="554.40" y="468.60" width="1.85" height="80.10" fill="#8fd0cb"/><rect x="556.20" y="468.60" width="1.85" height="80.10" fill="#8fd0cb"/><rect x="558.00" y="468.60" width="1.85" height="80.10" fill="#8fd0cb"/><rect x="559.80" y="463.30" width="1.75" height="85.40" fill="#f4a7a7"/><rect x="561.50" y="464.40" width="1.75" height="84.30" fill="#8fd0cb"/><rect x="563.20" y="441.00" width="1.95" height="107.70" fill="#8fd0cb"/><rect x="565.10" y="432.30" width="1.75" height="116.40" fill="#f4a7a7"/><rect x="566.80" y="467.00" width="1.75" height="81.70" fill="#8fd0cb"/><rect x="568.50" y="452.80" width="1.75" height="95.90" fill="#f4a7a7"/><rect x="570.20" y="449.60" width="1.75" height="99.10" fill="#8fd0cb"/><rect x="571.90" y="439.00" width="1.75" height="109.70" fill="#f4a7a7"/><rect x="573.60" y="446.40" width="1.75" height="102.30" fill="#8fd0cb"/><rect x="575.30" y="446.40" width="1.25" height="102.30" fill="#8fd0cb"/><rect x="576.50" y="426.30" width="1.75" height="122.40" fill="#8fd0cb"/><rect x="578.20" y="434.40" width="1.85" height="114.30" fill="#8fd0cb"/><rect x="580.00" y="438.00" width="2.05" height="110.70" fill="#f4a7a7"/><rect x="582.00" y="447.50" width="1.95" height="101.20" fill="#f4a7a7"/><rect x="583.90" y="445.40" width="1.75" height="103.30" fill="#f4a7a7"/><rect x="585.60" y="446.40" width="1.75" height="102.30" fill="#f4a7a7"/><rect x="587.30" y="464.40" width="1.95" height="84.30" fill="#f4a7a7"/><rect x="589.20" y="467.00" width="1.95" height="81.70" fill="#f4a7a7"/><rect x="591.10" y="452.80" width="1.95" height="95.90" fill="#f4a7a7"/><rect x="593.00" y="458.00" width="1.75" height="90.70" fill="#8fd0cb"/><rect x="594.70" y="452.80" width="1.75" height="95.90" fill="#8fd0cb"/><rect x="596.40" y="459.70" width="1.95" height="89.00" fill="#8fd0cb"/><rect x="598.30" y="458.00" width="1.75" height="90.70" fill="#8fd0cb"/><rect x="600.00" y="447.00" width="1.95" height="101.70" fill="#8fd0cb"/><rect x="601.90" y="437.00" width="1.65" height="111.70" fill="#f4a7a7"/><rect x="603.50" y="440.00" width="1.75" height="108.70" fill="#8fd0cb"/><rect x="605.20" y="445.40" width="1.95" height="103.30" fill="#8fd0cb"/><rect x="607.10" y="423.20" width="1.75" height="125.50" fill="#8fd0cb"/><rect x="608.80" y="423.80" width="1.75" height="124.90" fill="#8fd0cb"/><rect x="610.50" y="442.20" width="1.95" height="106.50" fill="#8fd0cb"/><rect x="612.40" y="457.00" width="2.25" height="91.70" fill="#f4a7a7"/></g>
<path d="M7 508.5H859" stroke="#2196f3" stroke-width="1" stroke-dasharray="2 1" fill="none"/>
<path d="M25.3 417.9 L27.5 419.3 L31.4 413.8 L33.7 415.6 L35.1 418.7 L36.7 418.7 L38.7 422.3 L44.4 418.0 L45.9 417.4 L47.7 419.0 L49.7 417.4 L53.3 428.2 L57.1 420.6 L62.8 430.9 L65.6 430.1 L67.9 424.6 L69.3 426.4 L71.3 426.6 L73.8 429.3 L75.4 428.5 L80.7 418.7 L82.9 420.3 L84.5 425.0 L90.0 481.0 L94.1 465.9 L97.7 477.5 L99.4 460.5 L101.4 464.4 L103.6 463.2 L105.0 463.7 L107.2 455.1 L108.6 453.0 L110.4 460.9 L112.2 453.0 L114.3 452.5 L119.3 444.8 L121.5 449.8 L125.0 448.9 L129.0 458.7 L131.8 459.6 L136.1 455.1 L137.9 456.9 L139.7 464.1 L141.5 460.1 L146.2 468.6 L151.0 457.3 L152.8 457.8 L156.9 448.0 L159.0 448.9 L161.7 448.0 L163.5 454.2 L167.1 448.9 L171.2 449.8 L174.2 441.2 L177.4 446.6 L180.5 454.5 L183.5 458.2 L185.0 450.9 L189.0 392.6 L190.2 403.9 L192.7 423.4 L194.8 424.6 L198.2 452.1 L201.2 449.6 L203.0 446.6 L204.9 446.0 L206.1 448.4 L208.5 444.1 L210.4 442.3 L211.6 442.3 L213.4 438.7 L216.7 453.4 L220.6 453.4 L225.7 442.8 L227.9 444.7 L230.1 443.6 L233.4 443.9 L237.5 450.5 L238.9 451.2 L241.9 447.6 L246.2 448.3 L251.4 455.6 L255.0 453.4 L260.6 467.1 L262.6 463.7 L266.0 465.2 L268.9 456.4 L273.8 447.6 L275.5 457.1 L277.7 454.2 L282.8 455.9 L285.8 453.4 L290.2 447.6 L293.7 457.1 L297.3 455.6 L299.5 456.8 L302.4 455.3 L304.6 450.5 L306.8 457.1 L310.5 444.7 L312.0 445.7 L314.2 450.5 L316.4 446.6 L318.1 447.6 L321.5 435.4 L323.7 439.2 L325.1 438.4 L326.9 430.7 L328.4 435.9 L330.7 448.3 L333.9 448.3 L336.1 447.1 L337.6 450.1 L340.5 449.8 L342.7 446.1 L344.9 446.9 L348.6 455.6 L350.8 457.8 L353.0 463.0 L355.9 463.0 L358.1 464.4 L360.3 466.6 L362.5 467.3 L363.5 468.8 L365.4 459.3 L366.9 463.0 L369.1 475.4 L372.7 471.0 L374.6 472.5 L377.1 457.1 L378.6 452.0 L380.0 459.3 L383.0 449.0 L385.0 444.0 L387.4 434.5 L389.6 446.6 L391.5 435.9 L393.9 431.0 L396.4 416.3 L398.3 426.9 L400.4 433.4 L404.2 409.8 L405.8 434.2 L407.4 407.4 L409.4 418.8 L413.5 407.4 L415.1 431.8 L416.2 423.7 L420.4 431.0 L422.4 424.5 L424.3 425.3 L426.5 431.0 L429.7 427.2 L435.4 451.3 L438.7 450.5 L442.7 431.0 L444.3 427.7 L446.5 434.2 L448.1 429.3 L450.0 428.5 L453.3 417.5 L455.2 426.9 L457.4 428.9 L462.7 396.3 L466.3 436.7 L468.3 421.2 L473.6 414.7 L475.7 422.0 L477.7 422.0 L480.9 412.6 L482.7 409.0 L484.3 401.6 L486.5 402.6 L490.3 388.9 L491.7 402.6 L493.9 377.3 L495.3 385.7 L499.1 354.0 L503.0 385.7 L508.7 341.3 L510.8 364.6 L517.7 301.1 L523.5 342.4 L527.0 308.5 L528.7 333.9 L532.5 295.9 L534.0 298.0 L538.3 288.9 L543.1 339.2 L545.2 321.2 L548.9 339.6 L552.4 314.1 L554.6 314.9 L556.1 321.1 L559.7 271.6 L561.7 297.1 L565.0 229.8 L567.1 246.1 L569.2 217.6 L571.1 245.3 L572.8 207.9 L574.4 207.6 L580.2 95.8 L583.4 152.9 L585.9 223.9 L588.2 290.0 L590.8 383.0 L593.1 385.7 L596.0 367.1 L598.3 357.9 L599.9 312.4 L601.9 299.2 L604.2 303.9 L606.5 302.8 L609.6 281.5 L611.6 280.7 L613.5 269.9 L615.0 299.2 L618.1 264.5 L620.9 248.2 L622.4 291.5 L624.6 286.9 L626.6 269.9 L628.1 296.1 L630.1 273.0 L633.5 262.1 L635.4 239.0 L637.0 237.4 L639.0 222.7 L642.3 172.8 L644.9 213.8 L646.3 227.5 L647.8 226.5 L651.8 276.1 L655.2 210.9 L658.6 216.8 L660.5 187.5 L663.0 206.0 L665.0 194.3 L666.4 252.9 L668.3 258.8 L669.7 250.9 L671.6 216.8 L675.2 258.8 L681.0 214.8 L682.6 241.2 L684.9 216.8 L688.4 239.2 L692.3 196.3 L694.3 188.4 L699.6 238.2 L701.5 216.8 L702.9 218.7 L705.4 204.1 L708.8 215.8 L712.7 193.3 L715.2 220.7 L716.6 224.6 L718.5 243.1 L720.5 285.1 L722.0 320.0 L723.5 350.9 L725.0 369.5 L726.6 361.7 L728.1 363.3 L729.2 371.0 L730.8 332.4 L732.3 330.5 L734.3 334.7 L735.9 372.5 L737.9 366.4 L739.7 374.1 L742.0 370.2 L747.5 408.9 L749.0 408.1 L752.1 375.6 L754.4 364.0 L756.0 365.6 L758.0 390.3 L761.4 365.6 L763.2 369.5 L766.8 348.6 L768.3 351.7 L770.6 348.6 L773.4 359.4 L776.8 364.8 L778.7 373.3 L780.7 357.9 L781.6 369.1 L783.7 354.4 L788.6 334.9 L791.0 313.0 L793.0 330.0 L796.7 304.8 L798.3 312.1 L800.0 290.2 L801.6 307.3 L804.3 300.0 L806.5 285.3 L808.9 318.7 L811.3 373.9 L813.4 349.5 L819.1 316.6 L820.4 349.9 L822.4 336.9 L824.0 337.7 L827.3 346.7 L830.2 348.3 L832.2 345.0 L833.5 328.0 L835.1 344.2 L836.7 370.0 L838.1 393.6 L841.0 508.0" stroke="#2196f3" stroke-width="2" fill="none" stroke-linejoin="miter" stroke-miterlimit="4" stroke-linecap="butt"/>
<path d="M6.5 43.5H913.5V578.5H6.5Z M859.5 43V579 M6 549.5H914" stroke="#50535e" stroke-width="1" fill="none"/>
<path d="M41.5 550V553M130.5 550V553M218.5 550V553M306.5 550V553M394.5 550V553M482.5 550V553M570.5 550V553M658.5 550V553M746.5 550V553M834.5 550V553M860 95.5H864M860 154.5H864M860 213.5H864M860 272.5H864M860 331.5H864M860 390.5H864M860 449.5H864" stroke="#50535e" stroke-width="1" fill="none"/>
<rect x="859" y="499" width="41" height="19" fill="#2196f3"/>
<path d="M859 508.5H863.5" stroke="#fff" stroke-width="1"/>
<rect x="860" y="519" width="48" height="19" fill="#2196f3"/>
<text x="867.33" y="512.8" font-size="12.8" fill="#fff" textLength="22.81" lengthAdjust="spacingAndGlyphs">0.01</text>
<text x="863.92" y="532.9" font-size="12.8" fill="#fff" textLength="35.93" lengthAdjust="spacingAndGlyphs">10d 2h</text>
<text x="868.02" y="99.8" font-size="13.2" fill="#434651" textLength="35.87" lengthAdjust="spacingAndGlyphs" stroke="#434651" stroke-width="0.3">140.00</text>
<text x="868.02" y="158.8" font-size="13.2" fill="#434651" textLength="35.87" lengthAdjust="spacingAndGlyphs" stroke="#434651" stroke-width="0.3">120.00</text>
<text x="868.02" y="217.8" font-size="13.2" fill="#434651" textLength="35.87" lengthAdjust="spacingAndGlyphs" stroke="#434651" stroke-width="0.3">100.00</text>
<text x="867.46" y="276.8" font-size="13.2" fill="#434651" textLength="30.09" lengthAdjust="spacingAndGlyphs" stroke="#434651" stroke-width="0.3">80.00</text>
<text x="867.40" y="335.8" font-size="13.2" fill="#434651" textLength="30.15" lengthAdjust="spacingAndGlyphs" stroke="#434651" stroke-width="0.3">60.00</text>
<text x="867.76" y="394.8" font-size="13.2" fill="#434651" textLength="29.78" lengthAdjust="spacingAndGlyphs" stroke="#434651" stroke-width="0.3">40.00</text>
<text x="867.40" y="453.8" font-size="13.2" fill="#434651" textLength="30.15" lengthAdjust="spacingAndGlyphs" stroke="#434651" stroke-width="0.3">20.00</text>
<text x="27.25" y="569.1" font-size="13.2" fill="#50535e" textLength="28.12" lengthAdjust="spacingAndGlyphs" stroke="#50535e" stroke-width="0.4">1984</text>
<text x="116.25" y="569.1" font-size="13.2" fill="#50535e" textLength="28.26" lengthAdjust="spacingAndGlyphs" stroke="#50535e" stroke-width="0.4">1988</text>
<text x="204.24" y="569.1" font-size="13.2" fill="#50535e" textLength="28.39" lengthAdjust="spacingAndGlyphs" stroke="#50535e" stroke-width="0.4">1992</text>
<text x="292.25" y="569.1" font-size="13.2" fill="#50535e" textLength="28.26" lengthAdjust="spacingAndGlyphs" stroke="#50535e" stroke-width="0.4">1996</text>
<text x="380.57" y="569.1" font-size="13.2" fill="#50535e" textLength="27.86" lengthAdjust="spacingAndGlyphs" stroke="#50535e" stroke-width="0.4">2000</text>
<text x="468.58" y="569.1" font-size="13.2" fill="#50535e" textLength="27.80" lengthAdjust="spacingAndGlyphs" stroke="#50535e" stroke-width="0.4">2004</text>
<text x="556.57" y="569.1" font-size="13.2" fill="#50535e" textLength="27.93" lengthAdjust="spacingAndGlyphs" stroke="#50535e" stroke-width="0.4">2008</text>
<text x="644.57" y="569.1" font-size="13.2" fill="#50535e" textLength="28.06" lengthAdjust="spacingAndGlyphs" stroke="#50535e" stroke-width="0.4">2012</text>
<text x="732.57" y="569.1" font-size="13.2" fill="#50535e" textLength="27.93" lengthAdjust="spacingAndGlyphs" stroke="#50535e" stroke-width="0.4">2016</text>
<text x="820.57" y="569.1" font-size="13.2" fill="#50535e" textLength="27.86" lengthAdjust="spacingAndGlyphs" stroke="#50535e" stroke-width="0.4">2020</text>
<text x="5.90" y="16.9" font-size="13" fill="#131722" textLength="336.17" lengthAdjust="spacingAndGlyphs">Published on TradingView.com, April 20, 2020 20:15:32 UTC</text>
<text x="5.88" y="33.9" font-size="13" font-weight="bold" fill="#131722" textLength="87.03" lengthAdjust="spacingAndGlyphs">TVC:USOIL, 1M</text>
<text x="98.10" y="33.9" font-size="13" fill="#131722" textLength="24.28" lengthAdjust="spacingAndGlyphs">0.01</text>
<path d="M125.5 25.8H136.3L130.9 34.6Z" fill="#ef5350"/>
<text x="139.78" y="33.9" font-size="13" fill="#131722" textLength="99.18" lengthAdjust="spacingAndGlyphs">−18.43 (−99.95%)</text>
<text x="242.93" y="33.9" font-size="13" font-weight="bold" fill="#131722" textLength="13.10" lengthAdjust="spacingAndGlyphs">O:</text>
<text x="257.16" y="33.9" font-size="13" fill="#ef5350" textLength="32.01" lengthAdjust="spacingAndGlyphs">20.02</text>
<text x="292.72" y="33.9" font-size="13" font-weight="bold" fill="#131722" textLength="14.35" lengthAdjust="spacingAndGlyphs">H:</text>
<text x="307.15" y="33.9" font-size="13" fill="#ef5350" textLength="31.79" lengthAdjust="spacingAndGlyphs">29.11</text>
<text x="342.82" y="33.9" font-size="13" font-weight="bold" fill="#131722" textLength="9.92" lengthAdjust="spacingAndGlyphs">L:</text>
<text x="353.41" y="33.9" font-size="13" fill="#ef5350" textLength="23.65" lengthAdjust="spacingAndGlyphs">0.01</text>
<text x="383.07" y="33.9" font-size="13" font-weight="bold" fill="#131722" textLength="11.42" lengthAdjust="spacingAndGlyphs">C:</text>
<text x="395.20" y="33.9" font-size="13" fill="#ef5350" textLength="24.49" lengthAdjust="spacingAndGlyphs">0.01</text>
<text x="14.58" y="64.7" font-size="12.8" fill="#50535e" textLength="186.05" lengthAdjust="spacingAndGlyphs" stroke="#50535e" stroke-width="0.5">CFDs on WTI Crude Oil, 1M, TVC</text>
<text x="15.04" y="81.9" font-size="13" fill="#50535e" textLength="43.13" lengthAdjust="spacingAndGlyphs">Vol (20)</text>
<g fill="#2196f3"><circle cx="17.3" cy="595.3" r="6.3"/><circle cx="10.4" cy="599.4" r="4.3"/><circle cx="27.3" cy="598.8" r="4.9"/><rect x="10.4" y="597" width="16.9" height="6.7"/></g>
<path d="M7.4 602.2 L15.5 594.5 L22 600.3 L28.8 594.4" stroke="#fff" stroke-width="1.3" fill="none"/>
<circle cx="15.5" cy="594.5" r="1.7" fill="#fff"/><circle cx="22" cy="600.3" r="1.7" fill="#fff"/>
<text x="34.14" y="601" font-size="13" fill="#131722" textLength="70.53" lengthAdjust="spacingAndGlyphs">TradingView</text>
</svg></body></html>
